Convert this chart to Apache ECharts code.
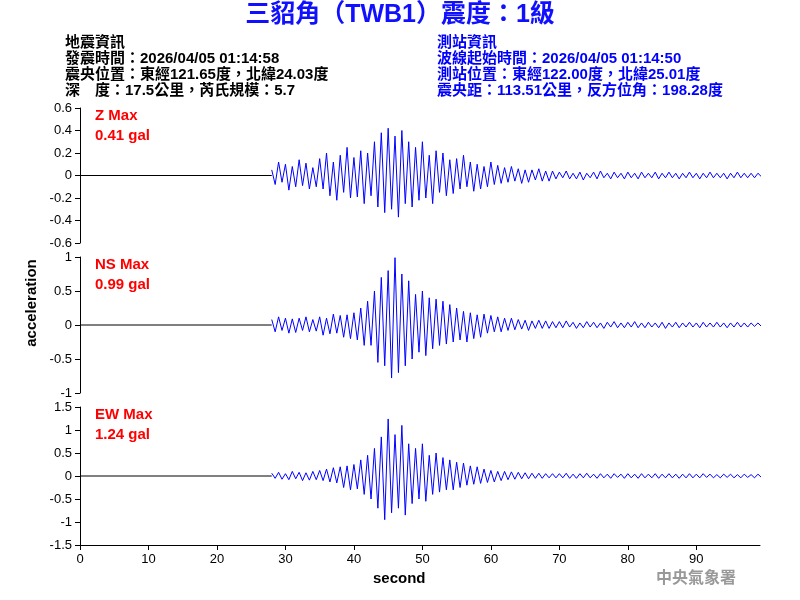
<!DOCTYPE html>
<html><head><meta charset="utf-8">
<script src="https://cdn.jsdelivr.net/npm/echarts@6/dist/echarts.min.js"></script>
<style>body{margin:0;background:#fff}#c{width:800px;height:600px}</style>
</head><body><div id="c"></div>
<script>
var startT = 28, step = 0.5;
var zWave = [0.05,-0.08,0.12,-0.06,0.1,-0.13,0.08,-0.1,0.14,-0.09,0.11,-0.12,0.07,-0.1,
  0.15,-0.12,0.2,-0.18,0.12,-0.22,0.18,-0.15,0.25,-0.2,0.16,-0.19,0.22,-0.25,0.2,-0.18,
  0.3,-0.28,0.38,-0.33,0.42,-0.3,0.35,-0.37,0.4,-0.25,0.3,-0.28,
  0.25,-0.22,0.3,-0.2,0.18,-0.25,0.22,-0.15,0.2,-0.18,0.14,-0.16,
  0.15,-0.12,0.18,-0.1,0.12,-0.14,0.1,-0.12,0.08,-0.1,0.12,-0.08,0.09,-0.07,
  0.07,-0.06,0.08,-0.05,0.06,-0.07,0.05,-0.06,0.05,-0.04,0.06,-0.05,0.04,-0.05,0.04,-0.03,
  0.03,-0.02,0.04,-0.03,0.02,-0.03,0.03,-0.04,0.02,-0.02,0.03,-0.03,0.04,-0.02,0.02,-0.03,0.03,-0.02,0.02,-0.03,
  0.03,-0.02,0.02,-0.03,0.03,-0.02,0.02,-0.02,0.03,-0.03,0.02,-0.02,0.03,-0.02,0.02,-0.03,0.02,-0.02,0.03,-0.02,
  0.02,-0.03,0.02,-0.02,0.03,-0.02,0.02,-0.02,0.02,-0.03,0.02,-0.02,0.03,-0.02,0.02,-0.02,0.02,-0.02,0.02,-0.01];
var nsWave = [0.08,-0.1,0.12,-0.08,0.1,-0.12,0.09,-0.11,0.1,-0.08,0.12,-0.1,0.08,-0.09,
  0.12,-0.15,0.1,-0.13,0.16,-0.12,0.14,-0.18,0.15,-0.2,0.18,-0.22,0.25,-0.3,0.35,-0.3,
  0.5,-0.55,0.7,-0.6,0.8,-0.78,0.99,-0.7,0.75,-0.6,0.65,-0.5,
  0.45,-0.4,0.5,-0.45,0.4,-0.35,0.38,-0.3,0.35,-0.28,0.3,-0.25,
  0.25,-0.22,0.2,-0.25,0.18,-0.2,0.15,-0.18,0.16,-0.12,0.14,-0.1,0.12,-0.1,
  0.1,-0.08,0.1,-0.07,0.08,-0.06,0.07,-0.08,0.06,-0.05,0.07,-0.05,0.06,-0.05,0.05,-0.04,
  0.05,-0.04,0.06,-0.03,0.04,-0.05,0.03,-0.04,0.05,-0.03,0.04,-0.04,0.03,-0.05,0.04,-0.03,0.05,-0.04,0.03,-0.04,
  0.04,-0.03,0.05,-0.04,0.03,-0.04,0.04,-0.03,0.03,-0.04,0.04,-0.05,0.03,-0.03,0.04,-0.04,0.03,-0.03,0.04,-0.03,
  0.03,-0.04,0.04,-0.03,0.03,-0.03,0.04,-0.03,0.03,-0.04,0.03,-0.03,0.04,-0.03,0.03,-0.03,0.03,-0.02,0.03,-0.02];
var ewWave = [0.06,-0.05,0.08,-0.07,0.05,-0.08,0.1,-0.06,0.08,-0.1,0.07,-0.09,0.1,-0.08,
  0.12,-0.1,0.15,-0.13,0.18,-0.15,0.2,-0.25,0.22,-0.3,0.25,-0.28,0.35,-0.4,0.45,-0.5,
  0.6,-0.7,0.85,-0.95,1.24,-0.8,0.9,-0.7,1.1,-0.85,0.7,-0.6,
  0.6,-0.5,0.7,-0.55,0.45,-0.4,0.5,-0.35,0.4,-0.3,0.35,-0.3,
  0.3,-0.25,0.28,-0.2,0.22,-0.18,0.2,-0.16,0.15,-0.14,0.12,-0.13,0.1,-0.1,
  0.1,-0.08,0.09,-0.07,0.08,-0.06,0.07,-0.06,0.06,-0.05,0.06,-0.05,0.05,-0.04,0.05,-0.04,
  0.05,-0.04,0.06,-0.05,0.04,-0.05,0.05,-0.04,0.06,-0.04,0.04,-0.05,0.05,-0.04,0.04,-0.05,0.05,-0.03,0.04,-0.05,
  0.05,-0.04,0.04,-0.05,0.05,-0.04,0.04,-0.04,0.05,-0.05,0.04,-0.04,0.05,-0.04,0.04,-0.05,0.04,-0.04,0.05,-0.04,
  0.04,-0.04,0.05,-0.03,0.04,-0.04,0.03,-0.04,0.04,-0.03,0.04,-0.04,0.03,-0.04,0.04,-0.03,0.03,-0.04,0.04,-0.03];
var channels = ['Z Max', 'NS Max', 'EW Max'];
var peaks = ['0.41 gal', '0.99 gal', '1.24 gal'];
var yRanges = [[-0.6, 0.6, 0.2], [-1, 1, 0.5], [-1.5, 1.5, 0.5]];
var quakeInfo = ['地震資訊', '發震時間：2026/04/05 01:14:58', '震央位置：東經121.65度，北緯24.03度', '深　度：17.5公里，芮氏規模：5.7'];
var stationInfo = ['測站資訊', '波線起始時間：2026/04/05 01:14:50', '測站位置：東經122.00度，北緯25.01度', '震央距：113.51公里，反方位角：198.28度'];

function pairs(arr) {
  var out = [];
  for (var i = 0; i < arr.length; i++) out.push([startT + i * step, arr[i]]);
  return out;
}
var waves = [zWave, nsWave, ewWave];
var tops = [108, 257, 407], heights = [135, 136, 138];
var font = '"Liberation Sans", "Noto Sans CJK TC", sans-serif';

var grid = [], xAxis = [], yAxis = [], series = [], graphic = [];
for (var k = 0; k < 3; k++) {
  grid.push({left: 80, right: 40, top: tops[k], height: heights[k]});
  xAxis.push({type: 'value', gridIndex: k, min: 0, max: 99.3, interval: 10, show: k == 2,
    axisLine: {onZero: false, lineStyle: {color: '#000'}}, axisTick: {lineStyle: {color: '#000'}},
    axisLabel: {color: '#000', fontSize: 13, fontFamily: 'Arial', showMaxLabel: false}, splitLine: {show: false}});
  yAxis.push({type: 'value', gridIndex: k, min: yRanges[k][0], max: yRanges[k][1], interval: yRanges[k][2],
    axisLine: {show: true, lineStyle: {color: '#000'}}, axisTick: {show: true, lineStyle: {color: '#000'}},
    axisLabel: {color: '#000', fontSize: 13, fontFamily: 'Arial'}, splitLine: {show: false}});
  series.push({type: 'line', xAxisIndex: k, yAxisIndex: k, data: [[0, 0], [startT, 0]], symbol: 'none',
    lineStyle: {color: '#000', width: 1}, silent: true});
  series.push({type: 'line', xAxisIndex: k, yAxisIndex: k, data: pairs(waves[k]), symbol: 'none',
    lineStyle: {color: '#0000ff', width: 1}, silent: true});
  graphic.push({type: 'text', left: 95, top: tops[k], style: {text: channels[k], fill: '#ff0000', font: 'bold 15px Arial'}});
  graphic.push({type: 'text', left: 95, top: tops[k] + 20, style: {text: peaks[k], fill: '#ff0000', font: 'bold 15px Arial'}});
}
graphic.push({type: 'text', left: 'center', top: 3, style: {text: '三貂角（TWB1）震度：1級', fill: '#1010ff', font: 'bold 25px ' + font}});
for (var i = 0; i < 4; i++) {
  graphic.push({type: 'text', left: 65, top: 35 + i * 16, style: {text: quakeInfo[i], fill: '#000', font: 'bold 15px ' + font}});
  graphic.push({type: 'text', left: 437, top: 35 + i * 16, style: {text: stationInfo[i], fill: '#0000ff', font: 'bold 15px ' + font}});
}
graphic.push({type: 'text', x: 32, y: 303, rotation: Math.PI / 2,
  style: {text: 'acceleration', fill: '#000', font: 'bold 15px Arial', align: 'center', verticalAlign: 'middle'}});
graphic.push({type: 'text', left: 373, top: 571, style: {text: 'second', fill: '#000', font: 'bold 15px Arial'}});
graphic.push({type: 'text', left: 656, top: 571, style: {text: '中央氣象署', fill: '#999', font: 'bold 16px ' + font}});

var myChart = echarts.init(document.getElementById('c'));
myChart.setOption({animation: false, grid: grid, xAxis: xAxis, yAxis: yAxis, series: series, graphic: graphic});
</script></body></html>
